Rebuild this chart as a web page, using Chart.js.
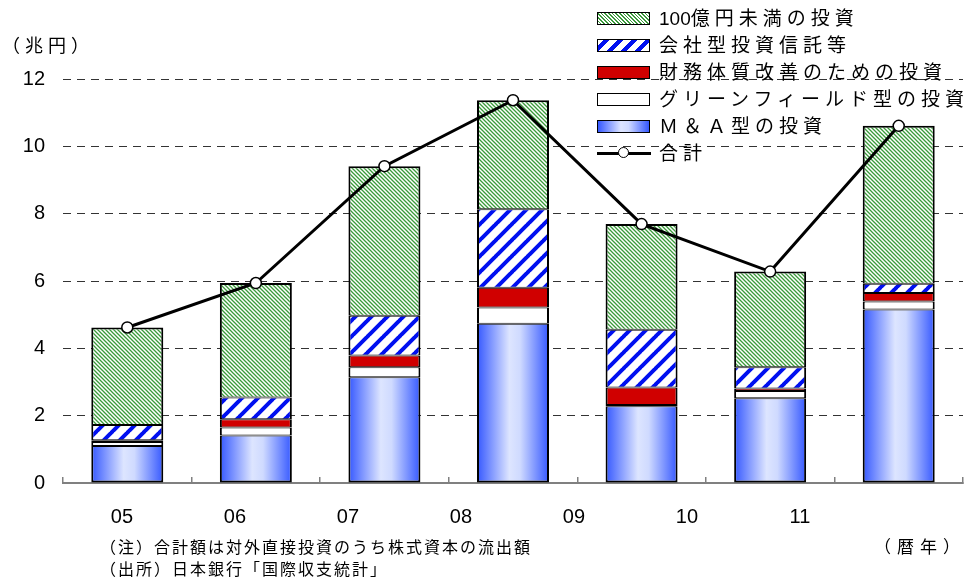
<!DOCTYPE html>
<html lang="ja">
<head>
<meta charset="utf-8">
<title>対外直接投資（株式資本）の内訳</title>
<script src="https://cdn.jsdelivr.net/npm/chart.js@4/dist/chart.umd.min.js"></script>
<style>
  body { margin: 0; background: #fff; }
  #wrap { position: relative; width: 971px; height: 587px; font-family: "Liberation Sans", "Noto Sans CJK JP", sans-serif; color: #000; }
  #chart { position: absolute; left: 0; top: 0; }
  .txt { position: absolute; white-space: nowrap; line-height: 1; }
  #unit { left: 2px; top: 37px; font-size: 18px; letter-spacing: 5px; }
  #yearUnit { left: 874px; top: 539px; font-size: 17px; letter-spacing: 6px; }
  #note1 { left: 100px; top: 540px; font-size: 16px; letter-spacing: 2px; }
  #note2 { left: 100px; top: 562px; font-size: 16px; letter-spacing: 2px; }
  #legend { position: absolute; left: 597px; top: 5px; }
  .row { height: 27px; display: flex; align-items: center; }
  .swatch { width: 51px; height: 11px; border: 1.5px solid #000; margin-right: 9px; }
  .lineSym { width: 54px; height: 13px; margin-right: 8px; position: relative; }
  .lineSym::before { content: ""; position: absolute; left: 0; right: 0; top: 5px; height: 3px; background: #000; }
  .lineSym::after { content: ""; position: absolute; left: 21px; top: 0; width: 9px; height: 9px; border: 1.5px solid #000; border-radius: 50%; background: #fff; }
  .label { font-size: 19px; letter-spacing: 5px; line-height: 1; }
  .num { letter-spacing: 0; }
</style>
</head>
<body>
<div id="wrap">
  <canvas id="chart" width="971" height="587"></canvas>
  <div class="txt" id="unit">（兆円）</div>
  <div id="legend"></div>
  <div class="txt" id="note1">（注）合計額は対外直接投資のうち株式資本の流出額</div>
  <div class="txt" id="yearUnit">（暦年）</div>
  <div class="txt" id="note2">（出所）日本銀行「国際収支統計」</div>
</div>
<script>
// 暦年（下2桁）
const years = ['05', '06', '07', '08', '09', '10', '11'];
// 内訳（兆円）
const mnaValues        = [1.10, 1.41, 3.14, 4.73, 2.28, 2.52, 5.15];
const greenfieldValues = [0.12, 0.24, 0.30, 0.48, 0.04, 0.21, 0.24];
const financeValues    = [0.05, 0.24, 0.35, 0.59, 0.52, 0.08, 0.25];
const trustValues      = [0.45, 0.65, 1.18, 2.33, 1.71, 0.63, 0.28];
const smallValues      = [2.90, 3.40, 4.44, 3.24, 3.14, 2.84, 4.69];
// 合計（兆円）
const totalValues      = [4.62, 5.94, 9.41, 11.37, 7.69, 6.28, 10.61];
const yTicks = [0, 2, 4, 6, 8, 10, 12];

const seriesNames = ['100億円未満の投資', '会社型投資信託等', '財務体質改善のための投資', 'グリーンフィールド型の投資', 'Ｍ＆Ａ型の投資', '合計'];

const barShare = 0.56;

// 斜線パターン
function makeHatch(size, color, width, slash) {
  const c = document.createElement('canvas');
  c.width = size; c.height = size;
  const g = c.getContext('2d');
  g.fillStyle = '#fff';
  g.fillRect(0, 0, size, size);
  g.strokeStyle = color;
  g.lineWidth = width;
  g.beginPath();
  for (let k = -1; k <= 1; k++) {
    if (slash) {
      g.moveTo(k * size - 1, size + 1);
      g.lineTo(k * size + size + 1, -1);
    } else {
      g.moveTo(k * size - 1, -1);
      g.lineTo(k * size + size + 1, size + 1);
    }
  }
  g.stroke();
  return c;
}

const ctx = document.getElementById('chart').getContext('2d');
const greenHatch = ctx.createPattern(makeHatch(4, '#3a9a3a', 1.3, false), 'repeat');
const blueHatch = ctx.createPattern(makeHatch(16, '#0010f0', 4, true), 'repeat');

// M&A型は棒ごとに横方向グラデーション
function mnaFill(context) {
  const chart = context.chart;
  const x = chart.scales.x;
  if (!chart.chartArea || !x || context.dataIndex === undefined) return '#7088ff';
  const cx = x.getPixelForValue(context.dataIndex);
  const half = (x.getPixelForValue(1) - x.getPixelForValue(0)) * barShare / 2;
  const g = chart.ctx.createLinearGradient(cx - half, 0, cx + half, 0);
  g.addColorStop(0, '#3558ff');
  g.addColorStop(0.45, '#dde5ff');
  g.addColorStop(0.6, '#cfdaff');
  g.addColorStop(1, '#3558ff');
  return g;
}

const legendFills = [
  'repeating-linear-gradient(45deg, #fff 0 1.5px, #3a9a3a 1.5px 2.6px)',
  'repeating-linear-gradient(-45deg, #fff 0 6px, #0010f0 6px 10px)',
  '#d00000',
  '#fff',
  'linear-gradient(90deg, #3558ff, #dde5ff 45%, #cfdaff 60%, #3558ff)'
];

const legend = document.getElementById('legend');
seriesNames.forEach((name, i) => {
  const row = document.createElement('div');
  row.className = 'row';
  const sym = document.createElement('div');
  if (i < legendFills.length) {
    sym.className = 'swatch';
    sym.style.background = legendFills[i];
  } else {
    sym.className = 'lineSym';
  }
  const lab = document.createElement('span');
  lab.className = 'label';
  // 半角数字は字間を詰める
  const m = name.match(/^(\d+)(.*)$/);
  if (m) {
    const n = document.createElement('span');
    n.className = 'num';
    n.textContent = m[1];
    lab.appendChild(n);
    lab.appendChild(document.createTextNode(m[2]));
  } else {
    lab.textContent = name;
  }
  row.appendChild(sym);
  row.appendChild(lab);
  legend.appendChild(row);
});

function barSet(label, data, fill, border) {
  return {
    type: 'bar',
    label: label,
    data: data,
    xAxisID: 'x',
    yAxisID: 'y',
    backgroundColor: fill,
    borderColor: '#000',
    borderWidth: border,
    borderSkipped: false,
    categoryPercentage: barShare,
    barPercentage: 1,
    order: 1
  };
}

new Chart(ctx, {
  data: {
    labels: years,
    datasets: [
      {
        type: 'line',
        label: seriesNames[5],
        data: totalValues,
        xAxisID: 'x',
        yAxisID: 'y',
        borderColor: '#000',
        borderWidth: 3,
        pointRadius: 5.5,
        pointBackgroundColor: '#fff',
        pointBorderColor: '#000',
        pointBorderWidth: 1.5,
        tension: 0,
        order: 0
      },
      barSet(seriesNames[4], mnaValues, mnaFill, { left: 2, right: 2, top: 1, bottom: 2 }),
      barSet(seriesNames[3], greenfieldValues, '#fff', { left: 2, right: 2, top: 1, bottom: 1 }),
      barSet(seriesNames[2], financeValues, '#d00000', { left: 2, right: 2, top: 1, bottom: 1 }),
      barSet(seriesNames[1], trustValues, blueHatch, { left: 2, right: 2, top: 1, bottom: 1 }),
      barSet(seriesNames[0], smallValues, greenHatch, { left: 2, right: 2, top: 2, bottom: 1 })
    ]
  },
  options: {
    responsive: false,
    animation: false,
    layout: { padding: { top: 79, right: 8, bottom: 54, left: 0 } },
    plugins: { legend: { display: false }, tooltip: { enabled: false } },
    scales: {
      x: {
        type: 'category',
        position: 'bottom',
        stacked: true,
        offset: true,
        border: { display: true, color: '#808080', width: 2 },
        grid: { display: true, offset: true, drawOnChartArea: false, drawTicks: true, tickLength: -6, color: '#808080', lineWidth: 1.5 },
        ticks: { display: false },
        afterFit: s => { s.height = 0; }
      },
      // 年ラベル用の目盛り
      xl: {
        type: 'linear',
        position: 'bottom',
        min: -0.522,
        max: 7.443,
        border: { display: false },
        grid: { display: false },
        afterBuildTicks: s => { s.ticks = years.map((_, i) => ({ value: i })); },
        ticks: {
          padding: 14,
          color: '#000',
          font: { family: 'Liberation Sans', size: 20 },
          maxRotation: 0,
          callback: v => years[v] ?? ''
        },
        afterFit: s => { s.height = 50; }
      },
      y: {
        stacked: true,
        min: 0,
        max: 12,
        border: { display: false, dash: [8, 6] },
        grid: {
          drawTicks: false,
          color: c => c.tick.value === 0 ? 'rgba(0,0,0,0)' : '#333',
          lineWidth: 1
        },
        afterBuildTicks: s => { s.ticks = yTicks.map(v => ({ value: v })); },
        ticks: {
          padding: 18,
          color: '#000',
          font: { family: 'Liberation Sans', size: 20 }
        },
        afterFit: s => { s.width = 63; }
      }
    }
  }
});
</script>
</body>
</html>
